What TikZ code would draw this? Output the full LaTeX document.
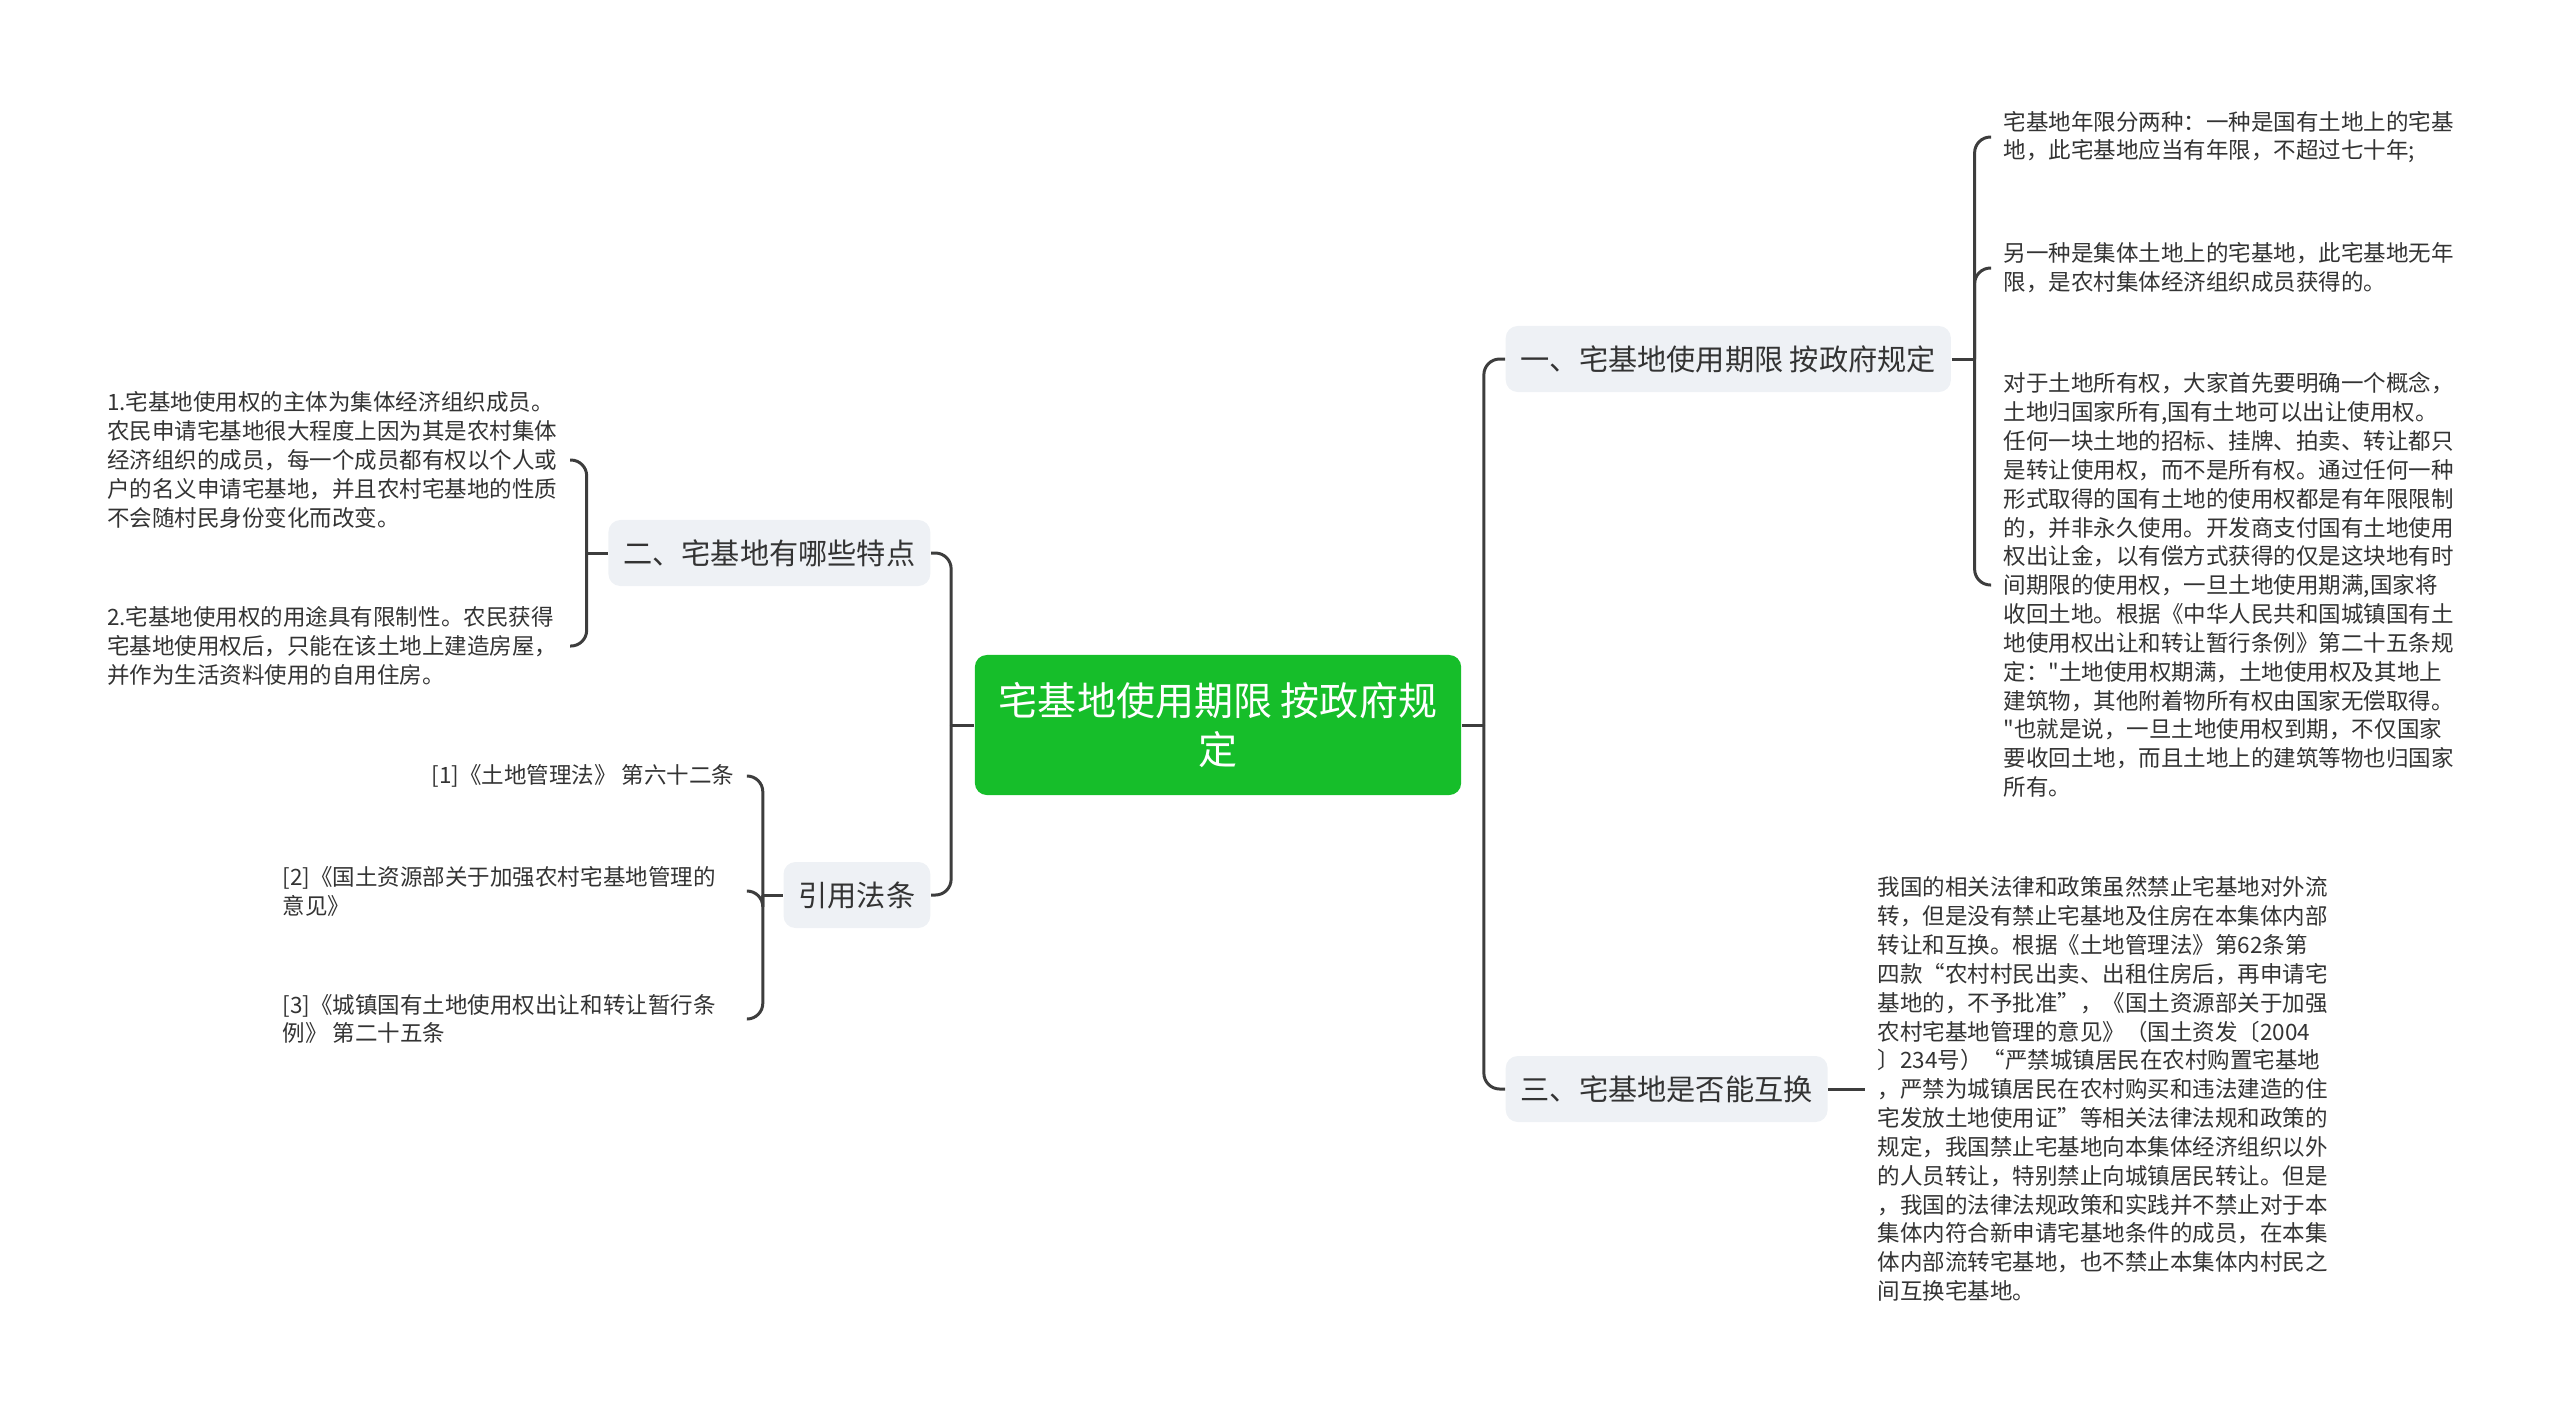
\documentclass[tikz,border=0pt]{standalone}
\usepackage{fontspec}
\setmainfont{Noto Sans CJK SC}
\newfontfamily\qfont{Noto Sans CJK SC}
\usetikzlibrary{positioning}
\definecolor{rootGreen}{HTML}{16BE2A}
\definecolor{branchFill}{HTML}{EEF1F5}
\definecolor{linkGray}{HTML}{3D3D3D}
\definecolor{textDark}{HTML}{333333}
\newcommand{\sq}{{\qfont\symbol{34}}}

\begin{document}
\begin{tikzpicture}[
  x=0.01cm, y=-0.01cm,
  link/.style={line width=0.85pt, draw=linkGray, rounded corners=4.5pt},
  root/.style={
    rectangle,
    rounded corners=1.2mm,
    fill=rootGreen,
    text=white,
    minimum width=4.86cm,
    minimum height=1.40cm,
    align=center,
    font=\fontsize{11.1pt}{13.7pt}\selectfont
  },
  branch/.style={
    rectangle,
    rounded corners=1.2mm,
    fill=branchFill,
    text=textDark,
    minimum height=0.66cm,
    inner xsep=0.15cm,
    font=\fontsize{8.3pt}{10pt}\selectfont
  },
  leaf/.style={
    align=left,
    text=textDark,
    inner xsep=0.12cm,
    inner ysep=0pt,
    font=\fontsize{6.4pt}{8.2pt}\selectfont
  }
]
  \useasboundingbox (0,0) rectangle (2560,1414);

  % Root
  \node[root] (root) at (1218,725) {宅基地使用期限 按政府规\\定};

  % Branches
  \node[branch, anchor=west] (limit) at (1505,359) {一、宅基地使用期限 按政府规定};
  \node[branch, anchor=west] (swap) at (1505,1089) {三、宅基地是否能互换};
  \node[branch, anchor=east] (traits) at (931,553) {二、宅基地有哪些特点};
  \node[branch, anchor=east] (laws) at (931,895) {引用法条};

  % Leaves of limit
  \node[leaf, anchor=west] (termA) at (1991,137)
    {宅基地年限分两种：一种是国有土地上的宅基\\地，此宅基地应当有年限，不超过七十年;};
  \node[leaf, anchor=west] (termB) at (1991,268)
    {另一种是集体土地上的宅基地，此宅基地无年\\限，是农村集体经济组织成员获得的。};
  \node[leaf, anchor=west] (termC) at (1991,585)
    {对于土地所有权，大家首先要明确一个概念，\\
     土地归国家所有,国有土地可以出让使用权。\\
     任何一块土地的招标、挂牌、拍卖、转让都只\\
     是转让使用权，而不是所有权。通过任何一种\\
     形式取得的国有土地的使用权都是有年限限制\\
     的，并非永久使用。开发商支付国有土地使用\\
     权出让金，以有偿方式获得的仅是这块地有时\\
     间期限的使用权，一旦土地使用期满,国家将\\
     收回土地。根据《中华人民共和国城镇国有土\\
     地使用权出让和转让暂行条例》第二十五条规\\
     定：\sq 土地使用权期满，土地使用权及其地上\\
     建筑物，其他附着物所有权由国家无偿取得。\\
     \sq 也就是说，一旦土地使用权到期，不仅国家\\
     要收回土地，而且土地上的建筑等物也归国家\\
     所有。};

  % Leaf of swap
  \node[leaf, anchor=west] (swapText) at (1865,1089)
    {我国的相关法律和政策虽然禁止宅基地对外流\\
     转，但是没有禁止宅基地及住房在本集体内部\\
     转让和互换。根据《土地管理法》第62条第\\
     四款“农村村民出卖、出租住房后，再申请宅\\
     基地的，不予批准”，《国土资源部关于加强\\
     农村宅基地管理的意见》（国土资发〔2004\\
     〕234号）“严禁城镇居民在农村购置宅基地\\
     ，严禁为城镇居民在农村购买和违法建造的住\\
     宅发放土地使用证”等相关法律法规和政策的\\
     规定，我国禁止宅基地向本集体经济组织以外\\
     的人员转让，特别禁止向城镇居民转让。但是\\
     ，我国的法律法规政策和实践并不禁止对于本\\
     集体内符合新申请宅基地条件的成员，在本集\\
     体内部流转宅基地，也不禁止本集体内村民之\\
     间互换宅基地。};

  % Leaves of traits
  \node[leaf, anchor=east] (traitA) at (570,460)
    {1.宅基地使用权的主体为集体经济组织成员。\\
     农民申请宅基地很大程度上因为其是农村集体\\
     经济组织的成员，每一个成员都有权以个人或\\
     户的名义申请宅基地，并且农村宅基地的性质\\
     不会随村民身份变化而改变。};
  \node[leaf, anchor=east] (traitB) at (570,646)
    {2.宅基地使用权的用途具有限制性。农民获得\\
     宅基地使用权后，只能在该土地上建造房屋，\\
     并作为生活资料使用的自用住房。};

  % Leaves of laws
  \node[leaf, anchor=east] (lawA) at (747,776) {[1]《土地管理法》 第六十二条};
  \node[leaf, anchor=west] (lawB) at (270,891)
    {[2]《国土资源部关于加强农村宅基地管理的\\意见》};
  \node[leaf, anchor=west] (lawC) at (270,1019)
    {[3]《城镇国有土地使用权出让和转让暂行条\\例》 第二十五条};

  % Forks
  \coordinate (rtrunk) at ([xshift=0.22cm]root.east);
  \coordinate (ltrunk) at ([xshift=-0.23cm]root.west);
  \coordinate (limitFork) at ([xshift=0.23cm]limit.east);
  \coordinate (traitsFork) at ([xshift=-0.21cm]traits.west);
  \coordinate (lawsFork) at ([xshift=-0.20cm]laws.west);

  % Connectors
  \draw[link] (root.east) -- (rtrunk);
  \draw[link] (rtrunk) |- (limit.west);
  \draw[link] (rtrunk) |- (swap.west);
  \draw[link] (root.west) -- (ltrunk);
  \draw[link] (ltrunk) |- (traits.east);
  \draw[link] (ltrunk) |- (laws.east);

  \draw[link] (limit.east) -- (limitFork);
  \foreach \n in {termA,termB,termC}
    \draw[link] (limitFork) |- (\n.west);
  \draw[link] (swap.east) -- (swapText.west);

  \draw[link] (traits.west) -- (traitsFork);
  \foreach \n in {traitA,traitB}
    \draw[link] (traitsFork) |- (\n.east);
  \draw[link] (laws.west) -- (lawsFork);
  \draw[link] (lawsFork) |- (lawA.east);
  \draw[link] (lawsFork) |- (lawB.east -| lawA.east);
  \draw[link] (lawsFork) |- (lawC.east -| lawA.east);
\end{tikzpicture}
\end{document}
